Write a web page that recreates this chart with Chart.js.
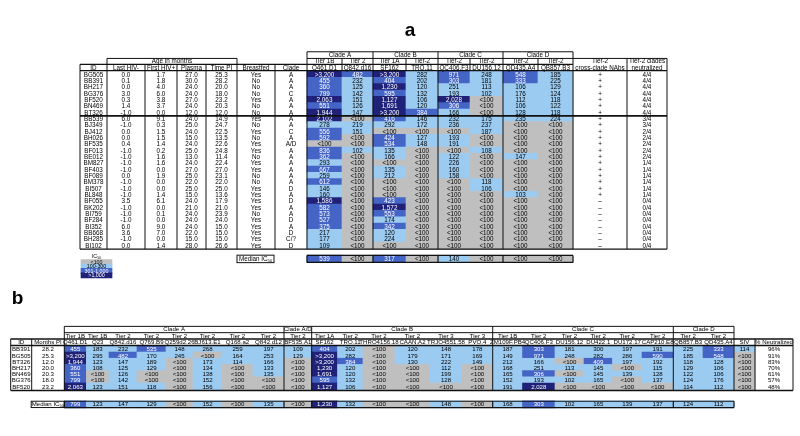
<!DOCTYPE html>
<html>
<head>
<meta charset="utf-8">
<title>IC50 neutralization tables</title>
<script src="https://cdn.jsdelivr.net/npm/chart.js@4.4.1/dist/chart.umd.min.js"></script>
<style>
  html, body { margin: 0; padding: 0; background: #fff; }
  canvas { display: block; }
</style>
</head>
<body>
<canvas id="chart" width="800" height="436"></canvas>
<script>
// ---------- panel a ----------
const aIds = ['BG505','BB391','BH217','BG376','BF520','BN469','BT326','BB539','BJ349','BJ412','BH026','BF535','BF013','BE012',
  'BM827','BF403','BF089','BM378','BI507','BL848','BF055','BK202','BI759','BF284','BI352','BB668','BH285','BI102'];
const aLastNeg = ['0.0','0.1','0.0','3.0','0.3','1.4','-1.0','6.0','-1.0','0.0','0.0','0.4','-1.0','-1.0',
  '-1.0','-1.0','0.0','-1.0','-1.0','-1.0','3.5','-1.0','-1.0','-1.0','6.0','3.6','-1.0','0.0'];
const aFirstPos = ['1.7','1.8','4.0','6.0','3.8','3.7','0.0','9.1','0.3','1.5','1.5','1.4','0.2','1.6',
  '1.6','0.0','1.9','0.0','0.0','1.4','6.1','0.0','0.1','0.0','9.0','7.0','0.0','1.4'];
const aPlasma = ['27.0','30.0','24.0','24.0','27.0','24.0','12.0','24.0','25.0','24.0','15.0','24.0','25.0','13.0',
  '24.0','27.0','25.0','22.0','25.0','15.0','24.0','21.0','24.0','24.0','24.0','22.0','15.0','28.0'];
const aTimePI = ['25.3','28.2','20.0','18.0','23.2','20.3','12.0','14.9','24.7','22.5','13.5','22.6','24.8','11.4',
  '22.4','27.0','23.1','22.0','25.0','13.6','17.9','21.0','23.9','24.0','15.0','15.0','15.0','26.6'];
const aBreastfed = ['Yes','No','No','No','Yes','No','No','Yes','No','Yes','No','Yes','Yes','No',
  'Yes','Yes','No','No','Yes','Yes','Yes','Yes','No','Yes','Yes','Yes','Yes','Yes'];
const aClade = ['A','A','A','C','A','A','A','A','A','C','A','A/D','A','A',
  'A','A','A','A','D','A','D','A','A','D','A','D','C/?','D'];
const aCladeNames = ['Clade A','Clade B','Clade C','Clade D'];
const aCladeSpans = [2, 2, 2, 2];
const aTiers = ['Tier 1B','Tier 2','Tier 1A','Tier-2','Tier-2','Tier-2','Tier-2','Tier-2'];
const aViruses = ['Q461.D1','Q842.d16','SF162','TRO.11','QC406.F3','DU156.12','QD435.A4','QB857.B3'];
const aIC50 = [
  ['>3,200','482','>3,200','282','971','248','548','185'],
  ['455','232','404','202','303','181','333','225'],
  ['360','125','1,230','120','251','113','106','129'],
  ['799','142','595','132','193','102','176','124'],
  ['2,063','151','1,127','106','2,028','<100','112','118'],
  ['551','126','1,691','120','306','<100','106','122'],
  ['1,944','147','>3,200','384','166','<100','128','118'],
  ['2,102','<100','416','146','232','175','235','224'],
  ['278','219','292','172','236','237','<100','<100'],
  ['556','151','<100','<100','<100','187','<100','<100'],
  ['592','<100','424','127','193','<100','<100','<100'],
  ['<100','<100','534','148','191','<100','<100','<100'],
  ['836','102','135','<100','<100','108','<100','<100'],
  ['362','<100','166','<100','122','<100','147','<100'],
  ['293','<100','<100','<100','226','<100','<100','<100'],
  ['667','<100','135','<100','160','<100','<100','<100'],
  ['259','<100','212','<100','158','<100','<100','<100'],
  ['612','<100','<100','<100','<100','118','<100','<100'],
  ['146','<100','<100','<100','<100','106','<100','<100'],
  ['160','<100','<100','<100','<100','<100','103','<100'],
  ['1,586','<100','423','<100','<100','<100','<100','<100'],
  ['582','<100','1,572','<100','<100','<100','<100','<100'],
  ['573','<100','553','<100','<100','<100','<100','<100'],
  ['527','<100','174','<100','<100','<100','<100','<100'],
  ['375','<100','342','<100','<100','<100','<100','<100'],
  ['217','<100','120','<100','<100','<100','<100','<100'],
  ['177','<100','224','<100','<100','<100','<100','<100'],
  ['109','<100','<100','<100','<100','<100','<100','<100']
];
const aMedian = ['539','<100','317','<100','140','<100','<100','<100'];
const aCrossClade = ['+','+','+','+','+','+','+','+','+','+','+','+','+','+',
  '+','+','+','+','+','+','\u2013','\u2013','\u2013','\u2013','\u2013','\u2013','\u2013','\u2013'];
const aNeutralized = ['4/4','4/4','4/4','4/4','4/4','4/4','4/4','3/4','3/4','2/4','2/4','2/4','2/4','2/4',
  '1/4','1/4','1/4','1/4','1/4','1/4','0/4','0/4','0/4','0/4','0/4','0/4','0/4','0/4'];
const legendLabels = ['<100','100-300','301-1,000','>1,000'];

// ---------- panel b ----------
const bIds = ['BB391','BG505','BT326','BH217','BN469','BG376','BF520'];
const bMonthsPI = ['28.2','25.3','12.0','20.0','20.3','18.0','23.2'];
const bCladeNames = ['Clade A','Clade A/D','Clade B','Clade C','Clade D'];
const bCladeSpans = [8, 1, 6, 6, 2];
const bTiers = ['Tier 1B','Tier 1B','Tier 2','Tier 2','Tier 2','Tier 2','Tier 2','Tier 2','Tier 2',
  'Tier 1A','Tier 2','Tier 2','Tier 2','Tier 3','Tier 3',
  'Tier 1B','Tier 2','Tier 2','Tier 2','Tier 2','Tier 2','Tier 2','Tier 2'];
const bViruses = ['Q461.D1','Q23','Q842.d16','Q769.B9','Q259d2.26','BJ613.E1','Q168.a2','Q842.d12','BF535.A1',
  'SF162','TRO.11','THRO4156.18','CAAN.A2','TRJO4551.58','PVO.4',
  'ZM109F.PB4','QC406.F3','DU156.12','DU422.1','DU172.17','CAP210.E8','QB857.B3','QD435.A4'];
const bIC50 = [
  ['455','183','232','535','148','268','259','197','109','404','202','<100','120','148','178','187','303','181','300','197','191','225','333'],
  ['>3,200','295','482','170','245','<100','164','253','129','>3,200','282','<100','179','171','169','149','971','248','282','286','590','185','548'],
  ['1,944','123','147','189','<100','173','114','166','<100','>3,200','384','<100','130','222','149','212','166','<100','409','197','192','118','128'],
  ['360','108','125','129','<100','134','<100','133','<100','1,230','120','<100','<100','112','<100','168','251','113','145','<100','115','129','106'],
  ['551','<100','126','<100','<100','138','<100','135','<100','1,691','120','<100','<100','199','<100','165','306','<100','145','139','128','122','106'],
  ['799','<100','142','<100','<100','152','<100','<100','<100','595','132','<100','<100','128','<100','152','193','102','165','<100','137','124','176'],
  ['2,063','123','151','118','<100','156','<100','<100','<100','1,127','106','<100','<100','<100','<100','191','2,028','<100','<100','<100','<100','114','112']
];
const bSIV = ['114','<100','<100','<100','<100','<100','<100'];
const bNeutralized = ['96%','91%','83%','70%','61%','57%','48%'];
const bMedian = ['799','123','147','129','<100','152','<100','135','<100','1,230','132','<100','<100','148','<100',
  '168','303','102','165','139','137','124','112'];

// ---------- layout ----------
const aEdges = [80, 107, 145, 177, 206, 237, 275, 307, 342, 373, 406, 438, 470, 503, 538, 573, 627, 667];
const bEdges = [10.7, 31.7, 64.3, 86.3, 109, 137, 166, 193, 222, 253, 284, 311.7, 337.5, 363, 395, 430, 462, 492.7,
  522.5, 555, 584, 612.5, 642, 673.3, 703, 734, 755, 793];
const aRowY = i => 58.7 + 7.04 * i;
const bRowY = i => 364.0 + 6.88 * i;
const FILLS = ['#c0bfbf', '#9ccbf1', '#4565c6', '#1f2278'];
const FONT = '"Liberation Sans", Arial, sans-serif';

function level(s) {
  if (s.startsWith('<')) return 0;
  const n = parseFloat(s.replace(/[>,%]/g, ''));
  if (n > 1000) return 3;
  if (n > 300) return 2;
  return 1;
}

function cellData(rows, edges, firstCol, rowY) {
  const out = [];
  rows.forEach((row, i) => row.forEach((v, j) => {
    out.push({ x: [edges[firstCol + j], edges[firstCol + j + 1]], y: rowY(i), v: v, lv: level(v) });
  }));
  return out;
}

const bRows = bIC50.map((row, i) => row.concat([bSIV[i]]));

function barSet(data, thickness, size) {
  return {
    data: data,
    barThickness: thickness,
    grouped: false,
    borderWidth: 0,
    textSize: size,
    backgroundColor: ctx => FILLS[ctx.raw ? ctx.raw.lv : 0]
  };
}

const tablePlugin = {
  id: 'tableText',
  afterDatasetsDraw(chart) {
    const ctx = chart.ctx;
    const px = v => chart.scales.x.getPixelForValue(v);
    const py = v => chart.scales.y.getPixelForValue(v);
    ctx.save();
    ctx.textAlign = 'center';
    ctx.textBaseline = 'middle';

    // values inside the coloured cells
    chart.data.datasets.forEach((ds, di) => {
      const meta = chart.getDatasetMeta(di);
      ctx.font = ds.textSize + 'px ' + FONT;
      meta.data.forEach((el, k) => {
        const item = ds.data[k];
        ctx.fillStyle = item.lv >= 2 ? '#ffffff' : '#000000';
        ctx.fillText(item.v, (el.x + el.base) / 2, el.y + 0.3);
      });
    });

    function text(s, x, y, size, opt) {
      opt = opt || {};
      ctx.font = (opt.bold ? 'bold ' : '') + size + 'px ' + FONT;
      ctx.textAlign = opt.align || 'center';
      ctx.fillStyle = '#000';
      ctx.fillText(s, px(x), py(y));
      ctx.textAlign = 'center';
    }
    function ic50(prefix, x, y, size) {
      ctx.font = size + 'px ' + FONT;
      const w1 = ctx.measureText(prefix).width;
      ctx.font = (size * 0.65) + 'px ' + FONT;
      const w2 = ctx.measureText('50').width;
      const left = px(x) - (w1 + w2) / 2;
      ctx.fillStyle = '#000';
      ctx.textAlign = 'left';
      ctx.font = size + 'px ' + FONT;
      ctx.fillText(prefix, left, py(y));
      ctx.font = (size * 0.65) + 'px ' + FONT;
      ctx.fillText('50', left + w1, py(y) + size * 0.3);
      ctx.textAlign = 'center';
    }
    function hline(y, x0, x1, w) {
      ctx.lineWidth = w || 0.8;
      ctx.beginPath(); ctx.moveTo(px(x0), py(y)); ctx.lineTo(px(x1), py(y)); ctx.stroke();
    }
    function vline(x, y0, y1, w) {
      ctx.lineWidth = w || 0.8;
      ctx.beginPath(); ctx.moveTo(px(x), py(y0)); ctx.lineTo(px(x), py(y1)); ctx.stroke();
    }
    const mid = (e, i) => (e[i] + e[i + 1]) / 2;
    ctx.strokeStyle = '#111';

    // ===== panel a =====
    text('a', 410, 9.5, 19, { bold: true });
    const aFs = 6.3;
    let c = 7;
    aCladeNames.forEach((n, i) => {
      text(n, (aEdges[c] + aEdges[c + aCladeSpans[i]]) / 2, 37.2, aFs);
      c += aCladeSpans[i];
    });
    text('Age in months', (aEdges[1] + aEdges[5]) / 2, 44.2, aFs);
    aTiers.forEach((t, j) => text(t, mid(aEdges, 7 + j), 44.2, aFs));
    ['ID','Last HIV-','First HIV+','Plasma','Time PI','Breastfed','Clade'].forEach((t, j) => text(t, mid(aEdges, j), 51.1, aFs));
    aViruses.forEach((t, j) => text(t, mid(aEdges, 7 + j), 51.1, aFs));
    text('Tier-2', mid(aEdges, 15), 44.2, aFs);
    text('cross-clade NAbs', mid(aEdges, 15), 51.1, aFs);
    text('Tier-2 clades', mid(aEdges, 16), 44.2, aFs);
    text('neutralized', mid(aEdges, 16), 51.1, aFs);

    const aCols = [aIds, aLastNeg, aFirstPos, aPlasma, aTimePI, aBreastfed, aClade];
    aIds.forEach((id, i) => {
      const y = aRowY(i) + 0.3;
      aCols.forEach((col, j) => text(col[i], mid(aEdges, j), y, aFs));
      text(aCrossClade[i], mid(aEdges, 15), y, aFs);
      text(aNeutralized[i], mid(aEdges, 16), y, aFs);
    });

    // panel a rules
    hline(33.3, 307, 573, 1);
    hline(40.7, 107, 237, 1);
    hline(40.7, 307, 667, 1);
    hline(47.3, 80, 573, 1.4);
    hline(54.3, 80, 667, 1.4);
    [307, 373, 438, 503, 573].forEach(x => vline(x, 33.3, 40.7, 1));
    [107, 237, 307, 342, 373, 406, 438, 470, 503, 538, 573, 627, 667].forEach(x => vline(x, 40.7, 47.3, 1));
    aEdges.forEach(x => vline(x, 47.3, 54.3, 1));
    [80, 107, 145, 177, 206, 237, 275, 307, 373, 438, 503, 573, 627, 667].forEach(x => vline(x, 54.3, 252.6, 1));
    hline(104.5, 80, 667, 1.6);
    hline(252.6, 80, 667, 1.4);

    // median row a
    hline(259.6, 307, 573, 1.2);
    hline(267.4, 307, 573, 1.2);
    [307, 373, 438, 503, 573].forEach(x => vline(x, 259.6, 267.4, 1.2));
    ctx.lineWidth = 1;
    ctx.strokeRect(px(237), py(259.3), px(274) - px(237), py(267.6) - py(259.3));
    ic50('Median IC', 255.5, 263.3, aFs);
    ic50('IC', 96.5, 261.2, 5.4);

    // ===== panel b =====
    text('b', 17.5, 307.5, 19, { bold: true });
    const bFs = 6.1;
    c = 2;
    bCladeNames.forEach((n, i) => {
      text(n, (bEdges[c] + bEdges[c + bCladeSpans[i]]) / 2, 342, bFs);
      c += bCladeSpans[i];
    });
    bTiers.forEach((t, j) => text(t, mid(bEdges, 2 + j), 349, bFs));
    text('ID', mid(bEdges, 0), 356.1, bFs);
    text('Months PI', mid(bEdges, 1), 356.1, bFs);
    bViruses.forEach((t, j) => text(t, mid(bEdges, 2 + j), 356.1, bFs));
    text('SIV', mid(bEdges, 25), 356.1, bFs);
    text('% Neutralized', mid(bEdges, 26), 356.1, bFs);
    bIds.forEach((id, i) => {
      const y = bRowY(i) + 0.3;
      text(id, mid(bEdges, 0), y, bFs);
      text(bMonthsPI[i], mid(bEdges, 1), y, bFs);
      text(bNeutralized[i], mid(bEdges, 26), y, bFs);
    });

    // panel b rules
    const bMajor = [64.3, 284, 311.7, 492.7, 673.3, 734];
    hline(338.4, 64.3, 734, 1);
    hline(345.4, 64.3, 734, 1);
    bMajor.forEach(x => vline(x, 338.4, 352.4, 1));
    hline(352.4, 10.7, 793, 1.4);
    hline(359.6, 10.7, 793, 1.4);
    [10.7, 31.7].concat(bMajor, [755, 793]).forEach(x => vline(x, 352.4, 409.6, 1));
    hline(409.6, 10.7, 793, 1.4);

    // median row b
    hline(421.6, 64.3, 734, 1.2);
    hline(428.6, 64.3, 734, 1.2);
    bMajor.forEach(x => vline(x, 421.6, 428.6, 1.2));
    ctx.lineWidth = 1;
    ctx.strokeRect(px(31.2), py(421.6), px(64.3) - px(31.2), py(428.6) - py(421.6));
    ic50('Median IC', 47.8, 425.1, bFs);

    ctx.restore();
  }
};

new Chart(document.getElementById('chart'), {
  type: 'bar',
  data: {
    datasets: [
      barSet(cellData(aIC50, aEdges, 7, aRowY), 7.3, 6.3),
      barSet(cellData([aMedian], aEdges, 7, () => 263.5), 7.6, 6.3),
      barSet(legendLabels.map((t, i) => ({ x: [81, 112], y: 267.0 + 4.9 * i, v: t, lv: i })), 5.0, 5.3),
      barSet(cellData(bRows, bEdges, 2, bRowY), 7.1, 6.1),
      barSet(cellData([bMedian], bEdges, 2, () => 425.1), 7.0, 6.1)
    ]
  },
  options: {
    indexAxis: 'y',
    responsive: false,
    animation: false,
    events: [],
    layout: { padding: 0 },
    scales: {
      x: { type: 'linear', min: 0, max: 800, display: false },
      y: { type: 'linear', min: 0, max: 436, reverse: true, display: false }
    },
    plugins: { legend: { display: false }, tooltip: { enabled: false } }
  },
  plugins: [tablePlugin]
});
</script>
</body>
</html>
